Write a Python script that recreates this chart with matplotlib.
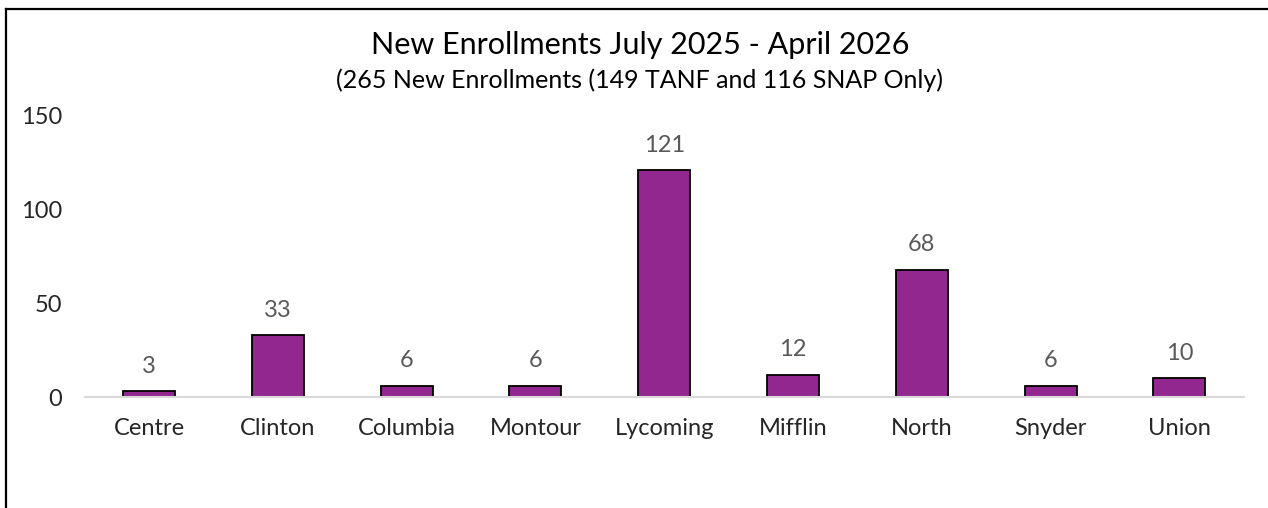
import matplotlib
matplotlib.use("Agg")
import matplotlib.pyplot as plt
from matplotlib.lines import Line2D

categories = ["Centre", "Clinton", "Columbia", "Montour", "Lycoming", "Mifflin", "North", "Snyder", "Union"]
enrollments = [3, 33, 6, 6, 121, 12, 68, 6, 10]
yticks = [0, 50, 100, 150]
title = "New Enrollments July 2025 - April 2026"
subtitle = "(265 New Enrollments (149 TANF and 116 SNAP Only)"

plt.rcParams['font.family'] = ['Lato', 'DejaVu Sans']

W, H = 1268, 508
fig = plt.figure(figsize=(W / 100, H / 100), dpi=100)
ax = fig.add_axes([84.6 / W, 1 - 397 / H, (1243.8 - 84.6) / W, (397 - 116) / H])

x = list(range(len(categories)))
bars = ax.bar(x, enrollments, width=0.404, color="#92278F", edgecolor="black", linewidth=1.3, zorder=3)

for xi, v in zip(x, enrollments):
    ax.annotate(str(v), (xi, v), xytext=(0, 18), textcoords="offset points",
                ha="center", va="center", fontsize=17, color="#595959")

ax.set_xlim(-0.5, len(categories) - 0.5)
ax.set_ylim(0, 150)
ax.set_yticks(yticks)
ax.set_yticklabels([str(t) for t in yticks], fontsize=17, color="#262626")
ax.set_xticks(x)
ax.set_xticklabels(categories, fontsize=17, color="#262626")
ax.tick_params(axis="both", length=0)
ax.tick_params(axis="y", pad=16)
ax.tick_params(axis="x", pad=15)
for s in ["top", "right", "left"]:
    ax.spines[s].set_visible(False)
ax.spines["bottom"].set_color("#D9D9D9")
ax.spines["bottom"].set_linewidth(1.5)
ax.spines["bottom"].set_zorder(4)

fig.text(640 / W, 1 - 45 / H, title, ha="center", va="center", fontsize=22, color="black")
fig.text(640 / W, 1 - 80 / H, subtitle, ha="center", va="center", fontsize=18, color="black")

fig.add_artist(Line2D([6 / W, 6 / W], [0, 1 - 9 / H], color="black", linewidth=1.6, transform=fig.transFigure))
fig.add_artist(Line2D([6 / W, 1], [1 - 9 / H, 1 - 9 / H], color="black", linewidth=1.6, transform=fig.transFigure))

fig.savefig("out.png", dpi=100)
